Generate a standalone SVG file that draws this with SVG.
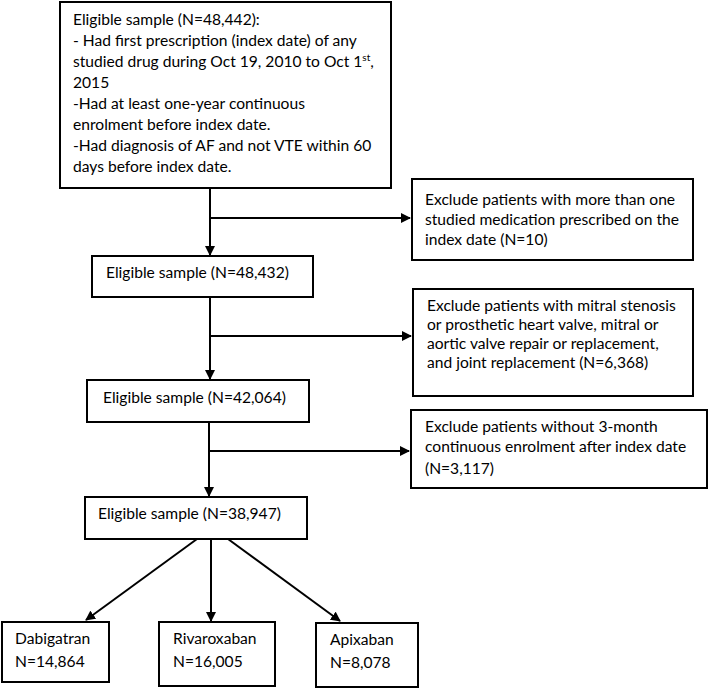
<svg xmlns="http://www.w3.org/2000/svg" width="709" height="689" viewBox="0 0 709 689">
<style>
rect.box{fill:#fff;stroke:#000;stroke-width:2}
text{font-family:Lato,"Open Sans","Liberation Sans",sans-serif;font-size:15.6px;fill:#000}
.c line{stroke:#000;stroke-width:2}
</style>
<defs>
<marker id="ah" markerWidth="10" markerHeight="10" refX="9" refY="5" orient="auto" markerUnits="userSpaceOnUse"><path d="M0,0 L10,5 L0,10 Z" fill="#000"/></marker>
</defs>
<rect width="709" height="689" fill="#fff"/>
<g class="c" id="connectors">
<line x1="210" y1="188" x2="210" y2="255" marker-end="url(#ah)"/>
<line x1="210" y1="218" x2="410" y2="218" marker-end="url(#ah)"/>
<line x1="210" y1="297" x2="210" y2="379" marker-end="url(#ah)"/>
<line x1="210" y1="336" x2="411" y2="336" marker-end="url(#ah)"/>
<line x1="209" y1="422" x2="209" y2="496" marker-end="url(#ah)"/>
<line x1="209" y1="451" x2="409" y2="451" marker-end="url(#ah)"/>
<line x1="197" y1="539" x2="86" y2="620" marker-end="url(#ah)"/>
<line x1="211" y1="539" x2="211" y2="621" marker-end="url(#ah)"/>
<line x1="228" y1="539" x2="340" y2="621" marker-end="url(#ah)"/>
</g>
<g id="n1">
<rect class="box" x="60" y="2" width="331" height="186"/>
<text x="73" y="25">Eligible sample (N=48,442):</text>
<text x="73" y="46">- Had first prescription (index date) of any</text>
<text x="73" y="67">studied drug during Oct 19, 2010 to Oct 1<tspan font-size="10" dy="-6">st</tspan><tspan dy="6">,</tspan></text>
<text x="73" y="88">2015</text>
<text x="73" y="109">-Had at least one-year continuous</text>
<text x="73" y="130">enrolment before index date.</text>
<text x="73" y="151">-Had diagnosis of AF and not VTE within 60</text>
<text x="73" y="172">days before index date.</text>
</g>
<g id="n2">
<rect class="box" x="412" y="179" width="281" height="81"/>
<text x="425" y="205">Exclude patients with more than one</text>
<text x="425" y="225">studied medication prescribed on the</text>
<text x="425" y="245">index date (N=10)</text>
</g>
<g id="n3">
<rect class="box" x="92" y="256" width="221" height="41"/>
<text x="106" y="278">Eligible sample (N=48,432)</text>
</g>
<g id="n4">
<rect class="box" x="413" y="289" width="280" height="107"/>
<text x="427" y="311">Exclude patients with mitral stenosis</text>
<text x="427" y="330">or prosthetic heart valve, mitral or</text>
<text x="427" y="349">aortic valve repair or replacement,</text>
<text x="427" y="368">and joint replacement (N=6,368)</text>
</g>
<g id="n5">
<rect class="box" x="87" y="380" width="222" height="42"/>
<text x="103" y="403">Eligible sample (N=42,064)</text>
</g>
<g id="n6">
<rect class="box" x="411" y="410" width="296" height="78"/>
<text x="425" y="432">Exclude patients without 3-month</text>
<text x="425" y="452">continuous enrolment after index date</text>
<text x="425" y="474">(N=3,117)</text>
</g>
<g id="n7">
<rect class="box" x="85" y="497" width="222" height="42"/>
<text x="98" y="519">Eligible sample (N=38,947)</text>
</g>
<g id="n8">
<rect class="box" x="2" y="622" width="107" height="60"/>
<text x="15" y="644">Dabigatran</text>
<text x="15" y="667">N=14,864</text>
</g>
<g id="n9">
<rect class="box" x="159" y="622" width="116" height="64"/>
<text x="173" y="644">Rivaroxaban</text>
<text x="173" y="667">N=16,005</text>
</g>
<g id="n10">
<rect class="box" x="316" y="623" width="102" height="64"/>
<text x="330" y="645">Apixaban</text>
<text x="330" y="668">N=8,078</text>
</g>
</svg>
